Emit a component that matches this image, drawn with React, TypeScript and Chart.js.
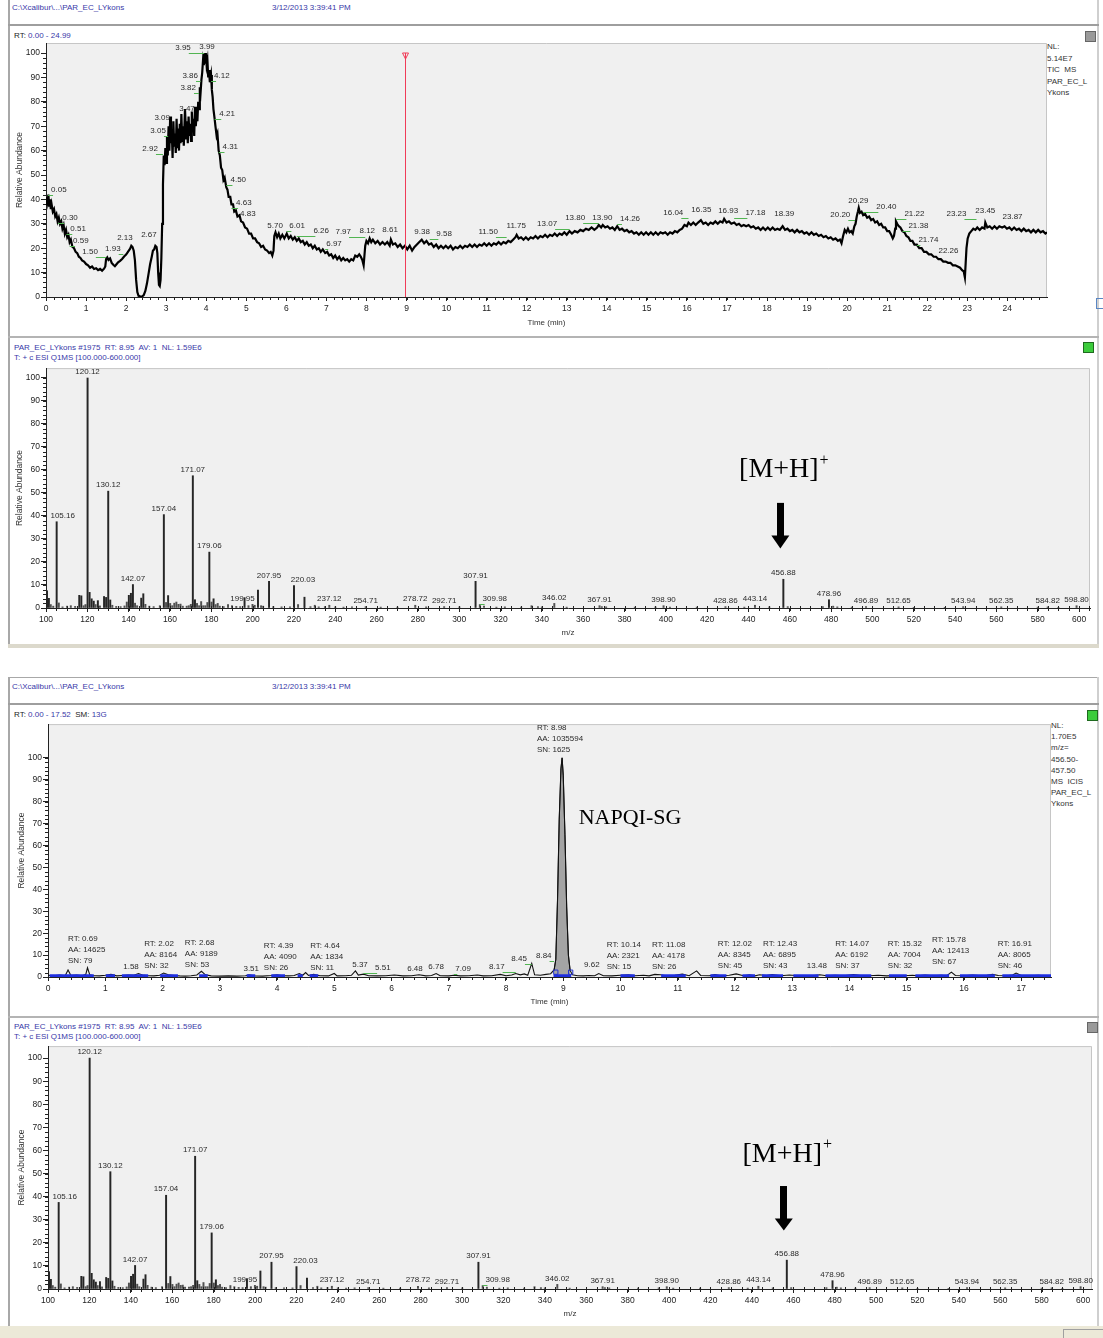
import React, { useEffect, useRef } from "react";
import { Chart, registerables } from "chart.js";

Chart.register(...registerables);

const SANS = '"Liberation Sans", Arial, Helvetica, sans-serif';
const SERIF = '"Liberation Serif", "Times New Roman", Times, serif';
Chart.defaults.font.family = SANS;
Chart.defaults.color = "#222";

// ================= DATA =================
// TIC chromatogram (top): [time (min), relative abundance %]
const tic1Points: [number, number][] = [
  [0.00,38],[0.02,41],[0.04,39],[0.06,42],[0.08,37],[0.10,40],[0.12,36],[0.14,38],[0.17,35],[0.20,36],
  [0.23,33],[0.26,34],[0.29,31],[0.32,32.5],[0.35,30],[0.38,31],[0.41,28],[0.44,29.5],[0.47,26],[0.50,27.5],
  [0.53,24.5],[0.56,25.5],[0.59,22.5],[0.62,23.5],[0.66,20.5],[0.70,20],[0.74,18.5],[0.78,18],[0.82,16.5],[0.86,16],
  [0.90,15],[0.95,14.5],[1.00,13.5],[1.05,13],[1.10,12],[1.15,12.5],[1.20,11.5],[1.25,11.8],[1.30,11],[1.35,11.5],
  [1.40,10.8],[1.45,11.6],[1.48,12.5],[1.50,15.5],[1.53,16.2],[1.56,15.2],[1.60,15.8],[1.64,14],[1.68,13.2],[1.72,12.6],
  [1.76,13.4],[1.80,14.2],[1.85,14.8],[1.90,15.6],[1.95,16.6],[2.00,17.4],[2.05,18.6],[2.10,19.8],[2.13,21],[2.16,20.5],
  [2.19,19],[2.22,15],[2.25,7],[2.28,2],[2.31,0.5],[2.35,0.3],[2.40,0.2],[2.44,0.8],[2.48,2.5],[2.52,5.5],
  [2.56,9.5],[2.60,13.5],[2.64,16.5],[2.67,19],[2.70,19.5],[2.73,21],[2.76,20.5],[2.78,18],[2.80,10],[2.82,5],
  [2.84,4.5],[2.86,7],[2.88,16],[2.90,30],[2.92,46],[2.94,58],[2.96,54],[2.98,61],
  [3.00,55],[3.02,66],[3.04,58],[3.06,70],[3.08,60],[3.10,74],[3.12,63],[3.14,68],[3.16,57],[3.18,72],
  [3.20,62],[3.22,67],[3.24,59],[3.26,73],[3.28,61],[3.30,69],[3.32,60],[3.34,71],[3.36,63],[3.38,75],
  [3.40,64],[3.42,70],[3.44,62],[3.47,77],[3.50,65],[3.52,72],[3.54,63],[3.56,74],[3.58,66],[3.60,71],
  [3.62,64],[3.64,76],[3.66,68],[3.68,73],[3.70,66],[3.72,78],[3.74,70],[3.76,75],[3.78,72],[3.80,80],
  [3.82,77],[3.84,86],[3.86,84],[3.88,89],[3.90,92],[3.92,97],[3.94,95],[3.95,100],[3.97,96],[3.99,100],
  [4.01,95],[4.03,97],[4.05,90],[4.07,93],[4.09,88],[4.12,91],[4.14,85],[4.16,82],[4.18,77],[4.21,73],
  [4.23,70],[4.26,66],[4.28,67],[4.31,60],[4.34,58],[4.37,53],[4.40,52],[4.43,48],[4.46,49],[4.50,45],
  [4.53,44],[4.56,41],[4.60,41],[4.63,38],[4.67,38],[4.70,35],[4.74,35.5],[4.78,33],[4.83,33.5],[4.87,31],
  [4.92,30.5],[4.97,28.5],[5.02,28],[5.07,26],[5.12,26],[5.17,24],[5.22,24],[5.27,22.5],[5.32,22],[5.37,20.5],
  [5.42,21],[5.47,19.5],[5.52,19],[5.57,18],[5.61,18.5],[5.65,17],[5.68,19],[5.70,25],[5.73,26.5],[5.77,24.5],
  [5.81,26],[5.85,24],[5.90,25.5],[5.95,24],[6.01,26],[6.06,24],[6.11,25],[6.16,23.5],[6.21,24.5],[6.26,23],
  [6.31,24],[6.36,22.5],[6.41,23],[6.46,21.5],[6.51,22.5],[6.56,21],[6.61,21.5],[6.66,20],[6.71,21],[6.76,19.5],
  [6.81,20],[6.86,18.5],[6.91,19.5],[6.97,18],[7.02,18.5],[7.07,17],[7.12,17.5],[7.17,16],[7.22,17],[7.27,15.5],
  [7.32,16.5],[7.37,15],[7.42,16],[7.47,15],[7.52,15.5],[7.57,14.5],[7.62,15.5],[7.67,15],[7.72,17],[7.77,16.5],
  [7.82,17.5],[7.86,16.5],[7.90,15],[7.93,13],[7.95,17],[7.97,21],[8.00,23],[8.04,22],[8.08,24],[8.12,22.5],
  [8.16,23.5],[8.22,22],[8.28,23],[8.34,21.5],[8.40,22.5],[8.46,21.5],[8.52,22.5],[8.58,21],[8.61,23.5],[8.66,21.5],
  [8.72,22],[8.78,20.5],[8.84,21.5],[8.90,20],[8.96,21],[9.02,19.5],[9.08,21],[9.14,19],[9.20,20.5],[9.26,21.5],
  [9.32,22.5],[9.38,23.5],[9.44,22],[9.50,23],[9.56,21.5],[9.62,22],[9.68,20.5],[9.74,21.5],[9.80,20],[9.86,21],
  [9.92,20],[9.98,21],[10.04,20],[10.10,21],[10.16,19.5],[10.22,20.5],[10.28,20],[10.34,21],[10.40,20],[10.46,21],
  [10.52,20.5],[10.58,21.5],[10.64,20.5],[10.70,21.5],[10.76,20.5],[10.82,21.5],[10.88,21],[10.94,22],[11.00,21],[11.06,22],
  [11.12,21],[11.18,22],[11.24,21.5],[11.30,22.5],[11.36,21.5],[11.42,22.5],[11.48,22],[11.54,23],[11.60,22.5],[11.66,23.5],
  [11.72,24.5],[11.75,25.5],[11.80,24],[11.86,24.5],[11.92,23.5],[11.98,24.5],[12.04,23.5],[12.10,24.5],[12.16,24],[12.22,25],
  [12.28,24],[12.34,25],[12.40,24.5],[12.46,25.5],[12.52,24.5],[12.58,25.5],[12.64,25],[12.70,26],[12.76,25],[12.82,26],
  [12.88,25.5],[12.94,26.5],[13.00,25.5],[13.07,27],[13.13,26],[13.20,27],[13.27,26.5],[13.34,27.5],[13.41,27],[13.48,28],
  [13.55,27.5],[13.62,28.5],[13.69,27.5],[13.76,28.5],[13.80,29.5],[13.86,28.5],[13.90,29.5],[13.96,28.5],[14.02,29],[14.08,28],
  [14.14,28.5],[14.20,27.5],[14.26,29],[14.32,27.5],[14.38,28],[14.44,27],[14.50,27.5],[14.56,26.5],[14.62,27],[14.68,26],
  [14.74,26.5],[14.80,25.5],[14.86,26.5],[14.92,25.5],[14.98,26.5],[15.04,25.5],[15.10,26.5],[15.16,25.5],[15.22,26.5],[15.28,25.5],
  [15.34,26.5],[15.40,26],[15.46,26.5],[15.52,25.5],[15.58,26.5],[15.64,26],[15.70,27],[15.76,26.5],[15.82,27.5],[15.88,28],
  [15.94,29.5],[16.00,29],[16.04,30.5],[16.10,29.5],[16.16,30.5],[16.22,29.5],[16.28,30.5],[16.35,31.5],[16.41,30],[16.47,30.5],
  [16.53,29.5],[16.59,30.5],[16.65,30],[16.71,31],[16.77,30],[16.83,31],[16.89,30.5],[16.93,32],[16.99,30.5],[17.05,31],
  [17.11,30],[17.18,30.5],[17.24,29.5],[17.30,30],[17.36,29],[17.42,29.5],[17.48,29],[17.54,29.5],[17.60,28.5],[17.66,29],
  [17.72,28],[17.78,28.5],[17.84,27.5],[17.90,28.5],[17.96,27.5],[18.02,28.5],[18.08,27.5],[18.14,28.5],[18.20,27.5],[18.26,28],
  [18.32,27.5],[18.39,29],[18.45,27.5],[18.51,28],[18.57,27],[18.63,27.5],[18.69,26.5],[18.75,27.5],[18.81,26.5],[18.87,27],
  [18.93,26],[18.99,26.5],[19.05,25.5],[19.11,26.5],[19.17,25.5],[19.23,26],[19.29,25],[19.35,25.5],[19.41,24.5],[19.47,25],
  [19.53,24],[19.59,24.5],[19.65,23.5],[19.71,24],[19.77,23],[19.82,23.5],[19.86,22],[19.90,25],[19.94,27.5],[19.98,26.5],
  [20.02,28],[20.06,26.5],[20.10,27],[20.14,26],[20.18,29],[20.21,30],[20.24,33],[20.27,35],[20.29,36.5],[20.32,34.5],
  [20.36,35],[20.40,33.5],[20.45,34],[20.50,32.5],[20.55,33],[20.60,31.5],[20.65,32],[20.70,30.5],[20.75,31],[20.80,29.5],
  [20.85,30],[20.90,28.5],[20.95,28.5],[21.00,27],[21.05,27],[21.10,25.5],[21.14,24],[21.17,25],[21.20,28],[21.22,31],
  [21.25,30],[21.29,29],[21.33,28.5],[21.38,27],[21.43,26.5],[21.48,25],[21.53,24.5],[21.58,23],[21.63,23],[21.68,21.5],
  [21.74,21.5],[21.80,20],[21.86,20],[21.92,18.5],[21.98,18.5],[22.04,17.5],[22.10,17.5],[22.16,16.5],[22.22,16.5],[22.28,15.5],
  [22.34,15.5],[22.40,14.5],[22.46,14.5],[22.52,14],[22.58,14],[22.64,13],[22.70,13],[22.76,12.5],[22.82,12],[22.87,11],
  [22.91,10.5],[22.94,8],[22.96,14],[22.98,20],[23.01,24],[23.05,26],[23.10,27],[23.15,28],[23.20,27.5],[23.25,28.5],
  [23.31,27.5],[23.37,28.5],[23.43,28],[23.45,30.5],[23.50,28.5],[23.56,29],[23.62,28],[23.68,29],[23.74,28],[23.80,29],
  [23.87,28.5],[23.93,29],[23.99,28],[24.05,28.5],[24.11,27.5],[24.17,28.5],[24.23,27.5],[24.29,28],[24.35,27],[24.41,28],
  [24.47,27],[24.53,27.5],[24.59,26.5],[24.65,27.5],[24.71,26.5],[24.77,27.5],[24.83,26.5],[24.89,27],[24.95,26],[24.99,26.5],
];
// TIC peak labels: retention time, label anchor (min), label anchor (%)
const tic1LabelRT = [0.05,0.30,0.51,0.59,1.50,1.93,2.13,2.67,2.92,3.05,3.09,3.47,3.82,3.86,3.95,3.99,4.12,4.21,4.31,4.50,4.63,4.83,5.70,6.01,6.26,6.97,7.97,8.12,8.61,9.38,9.58,11.50,11.75,13.07,13.80,13.90,14.26,16.04,16.35,16.93,17.18,18.39,20.20,20.29,20.40,21.22,21.38,21.74,22.26,23.23,23.45,23.87];
const tic1LabelX = [0.32,0.60,0.80,0.87,1.10,1.67,1.97,2.57,2.60,2.80,2.90,3.52,3.55,3.60,3.42,4.02,4.39,4.52,4.60,4.80,4.94,5.04,5.72,6.27,6.87,7.19,7.42,8.02,8.59,9.39,9.94,11.04,11.74,12.51,13.21,13.89,14.58,15.66,16.36,17.03,17.71,18.43,19.83,20.28,20.98,21.68,21.78,22.03,22.53,22.73,23.45,24.13];
const tic1LabelY = [43.9,32.4,27.9,23.0,18.4,19.7,24.2,25.4,60.7,68.0,73.4,77.0,85.7,90.6,102.0,102.5,90.6,75.0,61.5,48.0,38.5,34.0,29.1,29.1,27.0,21.7,26.6,27.0,27.5,26.6,25.8,26.6,29.1,29.9,32.4,32.4,32.0,34.4,35.7,35.2,34.4,34.0,33.6,39.3,36.9,34.0,29.1,23.4,18.9,34.0,35.2,32.8];
const scanRT = 8.95;

// Mass spectrum (scan #1975): [m/z, relative abundance %]
const specPeaks: [number, number][] = [
  [100.5,7.5],[101.4,4.2],[102.3,1.5],[103.5,0.8],[105.16,37.5],[106.2,2.2],[108.0,0.5],[110.2,0.8],[112.0,1.0],[114.1,0.7],
  [116.1,5.5],[117.1,5.3],[118.2,1.0],[119.1,1.5],[120.12,100],[121.1,6.8],[122.1,4.0],[123.1,3.0],[124.0,1.5],[125.1,3.2],
  [126.1,0.9],[128.1,5.0],[129.1,4.6],[130.12,50.8],[131.1,3.5],[132.1,1.2],[134.0,0.7],[136.1,0.6],[138.0,0.9],[139.1,2.6],
  [140.1,5.5],[141.1,6.4],[142.07,10.2],[143.1,2.1],[144.1,1.0],[146.1,4.3],[147.1,6.2],[148.1,1.6],[150.0,0.8],[152.1,0.6],
  [155.1,1.0],[157.04,40.6],[158.1,2.4],[159.1,5.4],[160.1,2.0],[161.1,1.0],[162.1,2.1],[163.1,2.6],[164.1,1.6],[165.1,1.7],
  [166.2,0.8],[168.1,0.8],[169.1,1.0],[170.1,1.6],[171.07,57.5],[172.1,3.6],[173.1,2.0],[174.1,1.0],[175.1,2.8],[176.1,1.0],
  [177.1,1.0],[178.1,2.4],[179.06,24.3],[180.1,2.6],[181.1,4.0],[182.1,1.5],[183.1,2.0],[184.1,0.8],[186.0,0.6],[188.1,1.5],
  [190.0,1.0],[192.1,0.7],[194.0,0.6],[196.1,4.5],[198.0,1.0],[199.95,1.6],[201.0,1.2],[202.6,7.8],[204.1,1.0],[205.1,0.8],
  [207.95,11.6],[210.0,0.6],[214.0,0.5],[218.1,0.5],[220.03,9.7],[222.0,1.5],[225.1,4.7],[228.0,0.6],[230.1,1.2],[232.0,0.5],
  [235.0,0.6],[237.12,1.2],[240.0,0.5],[244.0,0.4],[248.1,0.5],[254.71,0.6],[262.0,0.4],[270.1,0.4],[278.72,1.2],[284.0,0.5],
  [292.71,0.6],[300.1,0.5],[307.91,11.6],[309.98,1.5],[312.0,0.8],[318.0,0.4],[322.1,0.5],[330.0,0.4],[335.0,1.0],[338.1,0.6],
  [340.0,0.5],[346.02,2.0],[352.0,0.4],[367.91,1.0],[369.0,0.6],[371.1,0.5],[385.0,0.4],[395.0,0.5],[398.90,1.0],[402.0,0.4],
  [415.0,0.4],[428.86,0.6],[438.0,0.4],[443.14,1.2],[450.1,0.5],[456.88,12.5],[459.0,0.6],[476.0,0.6],[478.96,3.6],[481.0,0.8],
  [483.0,0.5],[490.0,0.4],[496.89,0.6],[512.65,0.5],[520.0,0.3],[535.0,0.3],[543.94,0.6],[562.35,0.5],[580.0,0.4],[584.82,0.5],
  [590.0,0.3],[598.80,1.0],
];
const specLabelMz = [105.16,120.12,130.12,142.07,157.04,171.07,179.06,199.95,207.95,220.03,237.12,254.71,278.72,292.71,307.91,309.98,346.02,367.91,398.90,428.86,443.14,456.88,478.96,496.89,512.65,543.94,562.35,584.82,598.80];
const mhMz = 456.88;

// XIC m/z 456.50-457.50 (bottom chromatogram): [time (min), relative abundance %]
const xic2Points: [number, number][] = [
  [0.00,0.8],[0.10,0.5],[0.20,0.9],[0.30,0.6],[0.35,3.2],[0.40,0.7],[0.50,0.9],[0.60,0.6],[0.66,1.2],[0.69,4.2],
  [0.73,1.0],[0.80,0.6],[0.90,0.5],[1.00,0.8],[1.10,1.2],[1.20,0.5],[1.30,0.7],[1.40,0.9],[1.50,0.8],[1.58,1.6],
  [1.65,0.9],[1.75,0.6],[1.85,0.5],[1.95,0.8],[2.02,1.8],[2.10,1.0],[2.20,0.7],[2.30,0.5],[2.40,0.4],[2.50,0.6],
  [2.60,0.9],[2.68,2.6],[2.75,1.0],[2.85,0.5],[3.00,0.4],[3.15,0.5],[3.30,0.4],[3.45,0.6],[3.51,1.0],[3.60,0.5],
  [3.75,0.4],[3.90,0.7],[4.00,1.0],[4.10,0.6],[4.20,0.5],[4.30,0.7],[4.39,1.6],[4.45,0.8],[4.50,2.0],[4.55,0.7],
  [4.64,1.2],[4.75,0.6],[4.90,0.5],[5.00,1.6],[5.05,0.5],[5.20,0.6],[5.30,0.8],[5.37,2.8],[5.42,0.9],[5.51,1.3],
  [5.60,0.6],[5.75,0.5],[5.90,0.6],[6.05,0.9],[6.20,0.5],[6.35,0.6],[6.48,1.0],[6.60,0.5],[6.70,0.7],[6.78,1.6],
  [6.85,0.6],[7.00,0.5],[7.09,0.8],[7.20,0.5],[7.35,0.6],[7.50,0.9],[7.60,0.5],[7.75,0.6],[7.90,1.2],[8.00,0.6],
  [8.10,0.9],[8.17,1.6],[8.25,1.0],[8.32,1.4],[8.38,0.8],[8.45,6.2],[8.50,1.0],[8.60,0.8],[8.70,1.2],[8.78,1.5],
  [8.84,3.2],[8.87,8],[8.90,35],[8.93,72],[8.96,95],[8.98,100],[9.00,92],[9.03,65],[9.06,32],[9.09,10],
  [9.12,3],[9.16,1.0],[9.25,0.6],[9.35,0.5],[9.45,0.7],[9.55,0.6],[9.62,1.6],[9.70,0.6],[9.85,0.5],[10.00,0.8],
  [10.14,1.0],[10.25,0.6],[10.40,0.8],[10.50,0.5],[10.60,1.2],[10.70,1.0],[10.80,0.6],[10.95,0.8],[11.08,1.3],[11.20,0.6],
  [11.33,2.8],[11.40,0.7],[11.55,0.6],[11.65,1.1],[11.75,0.6],[11.90,0.8],[12.02,1.4],[12.15,0.6],[12.25,1.0],[12.35,0.5],
  [12.43,1.0],[12.55,0.7],[12.65,1.1],[12.80,0.6],[12.95,0.9],[13.10,0.6],[13.25,0.7],[13.35,0.5],[13.48,1.0],[13.60,0.6],
  [13.75,0.8],[13.90,0.6],[14.07,1.1],[14.20,0.7],[14.35,0.6],[14.50,0.8],[14.65,0.5],[14.80,0.7],[14.95,0.6],[15.10,0.8],
  [15.20,0.6],[15.32,0.9],[15.45,0.6],[15.60,0.8],[15.70,0.6],[15.78,2.2],[15.85,0.7],[16.00,0.6],[16.15,0.9],[16.30,0.6],
  [16.40,0.8],[16.50,1.2],[16.60,0.7],[16.75,0.6],[16.85,0.9],[16.91,1.8],[17.00,0.7],[17.15,0.6],[17.30,0.8],[17.40,0.6],
  [17.52,0.7],
];
const xic2PeakStart = 8.84;
const xic2PeakEnd = 9.12;
const xic2Bounds = [8.87, 9.13];
const icisLevel = 0.6;
const icisStart = [0.03,1.01,1.29,1.96,2.64,3.47,3.90,4.36,4.57,8.83,10.00,10.71,11.57,12.13,12.47,13.02,13.58,14.69,15.15,15.93,16.67];
const icisEnd = [0.80,1.17,1.75,2.27,2.79,3.62,4.14,4.45,4.72,9.14,10.25,11.14,11.85,12.35,12.84,13.46,14.38,15.00,15.74,16.54,17.52];
const xic2PeakRT = [0.69,2.02,2.68,4.39,4.64,8.98,10.14,11.08,12.02,12.43,14.07,15.32,15.78,16.91];
const xic2PeakAA = [14625,8164,9189,4090,1834,1035594,2321,4178,8345,6895,6192,7004,12413,8065];
const xic2PeakSN = [79,32,53,26,11,1625,15,26,45,43,37,32,67,46];
const xic2PeakLabelX = [0.35,1.68,2.39,3.77,4.58,8.54,9.76,10.55,11.70,12.49,13.75,14.67,15.44,16.59];
const xic2PeakLabelY = [7.2,5.0,5.4,4.1,4.1,103.6,4.5,4.5,5.0,5.0,5.0,5.0,6.8,5.0];
const xic2MinorRT = [1.58,3.51,5.37,5.51,6.48,6.78,7.09,8.17,8.45,8.84,9.62,13.48];
const xic2MinorX = [1.45,3.55,5.45,5.85,6.41,6.78,7.25,7.84,8.23,8.66,9.50,13.43];
const xic2MinorY = [4.5,3.6,5.4,4.1,3.6,4.5,3.6,4.5,8.1,9.5,5.4,5.0];

// ================= STYLE HELPERS =================
const BLUE_TXT = "#3838a8";
const LABEL_NUDGE_PX: Record<string, number> = { "105.16": 6, "199.95": -10, "220.03": 9, "309.98": 15 };

function makeDeco(spec: any) {
  return {
    id: "deco",
    beforeDraw(chart: any) {
      const { ctx, chartArea: a } = chart;
      ctx.save();
      ctx.fillStyle = "#f0f0f0";
      ctx.fillRect(a.left, a.top, a.right - a.left, a.bottom - a.top);
      ctx.strokeStyle = "#c6c6c6";
      ctx.lineWidth = 1;
      ctx.beginPath();
      ctx.moveTo(a.left, a.top + 0.5);
      ctx.lineTo(a.right - 0.5, a.top + 0.5);
      ctx.lineTo(a.right - 0.5, a.bottom);
      ctx.stroke();
      ctx.restore();
    },
    afterDatasetsDraw(chart: any) {
      const { ctx, chartArea: a, scales } = chart;
      const xs = scales.x;
      const ys = scales.y;
      ctx.save();
      ctx.strokeStyle = "#222";
      ctx.lineWidth = 1;
      ctx.beginPath();
      if (spec.xMinor) {
        const st = spec.xMinor;
        for (let k = Math.ceil(xs.min / st - 1e-9); k * st <= xs.max + 1e-9; k++) {
          const px = Math.round(xs.getPixelForValue(k * st)) + 0.5;
          ctx.moveTo(px, a.bottom - (spec.xCross || 0));
          ctx.lineTo(px, a.bottom + 3);
        }
      }
      if (spec.yMinor) {
        for (let k = 0; k * spec.yMinor <= 100 + 1e-9; k++) {
          const py = Math.round(ys.getPixelForValue(k * spec.yMinor)) + 0.5;
          ctx.moveTo(a.left - 3, py);
          ctx.lineTo(a.left, py);
        }
      }
      ctx.stroke();

      if (spec.red != null) {
        const px = Math.round(xs.getPixelForValue(spec.red)) + 0.5;
        const top = ys.getPixelForValue(100);
        ctx.strokeStyle = "#f03c58";
        ctx.lineWidth = 1;
        ctx.beginPath();
        ctx.moveTo(px, top);
        ctx.lineTo(px, a.bottom);
        ctx.stroke();
        ctx.beginPath();
        ctx.moveTo(px - 3, top);
        ctx.lineTo(px + 3, top);
        ctx.lineTo(px, top + 6);
        ctx.closePath();
        ctx.stroke();
      }

      ctx.font = "8px " + SANS;
      ctx.textBaseline = "middle";
      for (const L of spec.labels || []) {
        const x = xs.getPixelForValue(L.x) + (L.dx || 0);
        const y = ys.getPixelForValue(L.y) + (L.dy || 0);
        const w = ctx.measureText(L.text).width;
        if (L.peak != null) {
          const px = xs.getPixelForValue(L.peak);
          if (Math.abs(px - x) > w / 2 + 1) {
            ctx.strokeStyle = "#52b552";
            ctx.lineWidth = 1;
            ctx.beginPath();
            const from = px > x ? x + w / 2 - 2 : x - w / 2 + 2;
            ctx.moveTo(from, Math.round(y + 5) + 0.5);
            ctx.lineTo(px, Math.round(y + 5) + 0.5);
            ctx.stroke();
          }
        }
        ctx.fillStyle = "#2a2a2a";
        ctx.textAlign = "center";
        ctx.fillText(L.text, x, y);
      }

      for (const M of spec.multi || []) {
        const x = xs.getPixelForValue(M.x);
        const y = ys.getPixelForValue(M.y);
        ctx.fillStyle = "#2a2a2a";
        ctx.textAlign = "left";
        const n = M.lines.length;
        M.lines.forEach((t: string, i: number) => {
          ctx.fillText(t, x, y - (n - 1 - i) * 11);
        });
      }

      if (spec.mh) {
        const cx = xs.getPixelForValue(spec.mh.x);
        ctx.fillStyle = "#000";
        ctx.font = "28px " + SERIF;
        const w1 = ctx.measureText("[M+H]").width;
        ctx.font = "16px " + SERIF;
        const w2 = ctx.measureText("+").width;
        const start = cx - (w1 + w2) / 2;
        const ty = ys.getPixelForValue(spec.mh.textY);
        ctx.textAlign = "left";
        ctx.textBaseline = "middle";
        ctx.font = "28px " + SERIF;
        ctx.fillText("[M+H]", start, ty);
        ctx.font = "16px " + SERIF;
        ctx.fillText("+", start + w1 + 1, ty - 9);
        const t = ys.getPixelForValue(spec.mh.top);
        const h = ys.getPixelForValue(spec.mh.head);
        const tip = ys.getPixelForValue(spec.mh.tip);
        const ax = cx - 3;
        ctx.fillRect(Math.round(ax - 3.5), t, 7, h - t + 1);
        ctx.beginPath();
        ctx.moveTo(ax - 9, h);
        ctx.lineTo(ax + 9, h);
        ctx.lineTo(ax, tip);
        ctx.closePath();
        ctx.fill();
      }

      if (spec.note) {
        ctx.fillStyle = "#000";
        ctx.font = spec.note.font;
        ctx.textAlign = "left";
        ctx.textBaseline = "middle";
        ctx.fillText(spec.note.text, xs.getPixelForValue(spec.note.x), ys.getPixelForValue(spec.note.y));
      }
      ctx.restore();
    },
  };
}

function xAxis(min: number, max: number, step: number, keep: number, title: string, h: number, titlePad: number) {
  return {
    type: "linear",
    min,
    max,
    bounds: "data",
    offset: false,
    ticks: {
      stepSize: step,
      includeBounds: false,
      autoSkip: false,
      maxRotation: 0,
      minRotation: 0,
      padding: 3,
      color: "#222",
      font: { size: 8.5 },
      callback: (v: any) => String(v),
    },
    grid: { drawOnChartArea: false, drawTicks: true, tickLength: 4, color: "#222", offset: false },
    border: { display: true, color: "#222", width: 1 },
    title: { display: true, text: title, color: "#333", font: { size: 8 }, padding: { top: 0, bottom: titlePad } },
    afterBuildTicks: (ax: any) => {
      ax.ticks = ax.ticks.filter((t: any) => Math.abs(t.value / keep - Math.round(t.value / keep)) < 1e-6 && t.value <= max + 1e-9);
    },
    afterFit: (ax: any) => {
      ax.height = h;
    },
  };
}

function yAxis(max: number, w: number, titlePad: number) {
  return {
    type: "linear",
    min: 0,
    max,
    bounds: "data",
    ticks: {
      stepSize: 10,
      includeBounds: false,
      autoSkip: false,
      padding: 1,
      color: "#222",
      font: { size: 8.5 },
      callback: (v: any) => String(v),
    },
    grid: { drawOnChartArea: false, drawTicks: true, tickLength: 5, color: "#222" },
    border: { display: true, color: "#222", width: 1 },
    title: { display: true, text: "Relative Abundance", color: "#333", font: { size: 8.5 }, padding: { top: titlePad, bottom: 0 } },
    afterBuildTicks: (ax: any) => {
      ax.ticks = ax.ticks.filter((t: any) => t.value <= 100 + 1e-9 && Math.abs(t.value % 10) < 1e-6);
    },
    afterFit: (ax: any) => {
      ax.width = w;
    },
  };
}

function baseOptions(padding: any) {
  return {
    animation: false,
    responsive: false,
    maintainAspectRatio: false,
    events: [],
    layout: { padding },
    plugins: { legend: { display: false }, tooltip: { enabled: false }, title: { display: false } },
  };
}

function ticConfig() {
  return {
    type: "line",
    data: {
      datasets: [
        {
          data: tic1Points.map((p) => ({ x: p[0], y: p[1] })),
          borderColor: "#000",
          borderWidth: 2.2,
          pointRadius: 0,
          tension: 0,
          fill: false,
        },
      ],
    },
    options: {
      ...baseOptions({ top: 13, right: 56, left: 0, bottom: 0 }),
      scales: {
        x: xAxis(0, 24.99, 1, 1, "Time (min)", 38, 7),
        y: yAxis(104.1, 46, 15),
      },
    },
    plugins: [
      makeDeco({
        xMinor: 0.2,
        yMinor: 2,
        red: scanRT,
        labels: tic1LabelRT.map((rt, i) => ({ text: rt.toFixed(2), x: tic1LabelX[i], y: tic1LabelY[i], peak: rt })),
      }),
    ],
  };
}

function specConfig(o: any) {
  return {
    type: "bar",
    data: {
      datasets: [
        {
          data: specPeaks.map((p) => ({ x: p[0], y: p[1] })),
          backgroundColor: specPeaks.map((p) => (p[1] >= 3 ? "#262626" : "#505050")),
          borderWidth: 0,
          barThickness: 1.3,
          grouped: false,
        },
      ],
    },
    options: {
      ...baseOptions({ top: 4, right: o.padRight, left: 0, bottom: 0 }),
      scales: {
        x: xAxis(100, o.xMax, 20, 20, "m/z", o.xH, o.titlePad),
        y: yAxis(o.yMax, o.yW, o.yTitlePad),
      },
    },
    plugins: [
      makeDeco({
        xMinor: 5,
        xCross: 2,
        yMinor: 2,
        labels: specLabelMz.map((mz) => {
          const key = mz.toFixed(2);
          const pk = specPeaks.find((q) => q[0] === mz);
          const nudge = LABEL_NUDGE_PX[key];
          return { text: key, x: mz, y: pk ? pk[1] : 0, dy: -6, dx: nudge || 0, peak: nudge ? mz : undefined };
        }),
        mh: { x: mhMz, textY: o.mhText, top: o.mhTop, head: o.mhHead, tip: o.mhTip },
      }),
    ],
  };
}

function xicConfig() {
  const icisData: any[] = [];
  icisStart.forEach((s, i) => {
    icisData.push({ x: s, y: icisLevel }, { x: icisEnd[i], y: icisLevel }, { x: icisEnd[i] + 0.001, y: null });
  });
  return {
    type: "line",
    data: {
      datasets: [
        {
          data: xic2Bounds.map((x) => ({ x, y: 2.2 })),
          showLine: false,
          pointStyle: "rect",
          pointRadius: 3,
          borderColor: "#2030d0",
          backgroundColor: "rgba(0,0,0,0)",
          borderWidth: 1,
        },
        {
          data: icisData,
          borderColor: "#1f2fe0",
          borderWidth: 3,
          pointRadius: 0,
          spanGaps: false,
          fill: false,
        },
        {
          data: xic2Points.map((p) => ({ x: p[0], y: p[1] })),
          borderColor: "#111",
          borderWidth: 1.1,
          pointRadius: 0,
          tension: 0,
          fill: false,
        },
        {
          data: xic2Points.filter((p) => p[0] >= xic2PeakStart && p[0] <= xic2PeakEnd).map((p) => ({ x: p[0], y: p[1] })),
          borderColor: "#222",
          borderWidth: 1,
          backgroundColor: "#a4a4a4",
          pointRadius: 0,
          tension: 0,
          fill: "origin",
        },
      ],
    },
    options: {
      ...baseOptions({ top: 4, right: 52, left: 0, bottom: 0 }),
      scales: {
        x: xAxis(0, 17.52, 1, 1, "Time (min)", 36, 6),
        y: yAxis(115.4, 48, 17),
      },
    },
    plugins: [
      makeDeco({
        xMinor: 0.2,
        yMinor: 2,
        labels: xic2MinorRT.map((rt, i) => ({ text: rt.toFixed(2), x: xic2MinorX[i], y: xic2MinorY[i], peak: rt })),
        multi: xic2PeakRT.map((rt, i) => ({
          x: xic2PeakLabelX[i],
          y: xic2PeakLabelY[i],
          lines: ["RT: " + rt.toFixed(2), "AA: " + xic2PeakAA[i], "SN: " + xic2PeakSN[i]],
        })),
        note: { text: "NAPQI-SG", x: 9.27, y: 72.4, font: "22px " + SERIF },
      }),
    ],
  };
}

function ChartBox({ top, height, build }: any) {
  const ref = useRef<HTMLCanvasElement>(null);
  useEffect(() => {
    const chart = new Chart(ref.current as HTMLCanvasElement, build() as any);
    return () => chart.destroy();
  }, []);
  return (
    <canvas
      ref={ref}
      width={1103}
      height={height}
      style={{ position: "absolute", left: 0, top, width: 1103, height, display: "block" }}
    />
  );
}

function Bar({ x, y, w, h, c }: any) {
  return <div style={{ position: "absolute", left: x, top: y, width: w, height: h, background: c }} />;
}

function Txt({ x, y, c, lh, children }: any) {
  return (
    <div
      style={{
        position: "absolute",
        left: x,
        top: y,
        color: c || "#222",
        fontSize: 8,
        lineHeight: (lh || 10) + "px",
        whiteSpace: "pre",
        fontFamily: SANS,
      }}
    >
      {children}
    </div>
  );
}

function Icon({ x, y, c, b }: any) {
  return (
    <div
      style={{
        position: "absolute",
        left: x,
        top: y,
        width: 11,
        height: 11,
        background: c,
        border: "1px solid " + b,
        boxSizing: "border-box",
      }}
    />
  );
}

export default function App() {
  return (
    <div
      style={{
        position: "absolute",
        left: 0,
        top: 0,
        width: 1103,
        height: 1338,
        background: "#fff",
        overflow: "hidden",
        fontFamily: SANS,
      }}
    >
      <Bar x={8} y={0} w={2} h={648} c="#a8a8a8" />
      <Bar x={1097} y={0} w={2} h={648} c="#cfcfcf" />
      <Bar x={8} y={24} w={1091} h={2} c="#9e9e9e" />
      <Bar x={8} y={336} w={1091} h={2} c="#b4b4b4" />
      <Bar x={8} y={644} w={1091} h={4} c="#dcd9cc" />
      <Txt x={12} y={3} c={BLUE_TXT}>{"C:\\Xcalibur\\...\\PAR_EC_LYkons"}</Txt>
      <Txt x={272} y={3} c={BLUE_TXT}>{"3/12/2013 3:39:41 PM"}</Txt>
      <Txt x={14} y={31}>
        {"RT: "}
        <span style={{ color: BLUE_TXT }}>{"0.00 - 24.99"}</span>
      </Txt>
      <Txt x={1047} y={41} lh={11.5} c="#333">{"NL:\n5.14E7\nTIC  MS\nPAR_EC_L\nYkons"}</Txt>
      <Icon x={1085} y={31} c="#9a9a9a" b="#666" />
      <div style={{ position: "absolute", left: 1096, top: 298, width: 8, height: 11, border: "1px solid #5a86c4", boxSizing: "border-box" }} />
      <Txt x={14} y={343} c={BLUE_TXT}>{"PAR_EC_LYkons #1975  RT: 8.95  AV: 1  NL: 1.59E6\nT: + c ESI Q1MS [100.000-600.000]"}</Txt>
      <Icon x={1083} y={342} c="#3ccc3c" b="#1f6a1f" />

      <ChartBox top={30} height={305} build={ticConfig} />
      <ChartBox
        top={362}
        height={282}
        build={() =>
          specConfig({ padRight: 13, xMax: 605.3, xH: 36, titlePad: 6, yMax: 104.3, yW: 46, yTitlePad: 15, mhText: 60.3, mhTop: 45.7, mhHead: 31.5, mhTip: 25.9 })
        }
      />

      <Bar x={8} y={677} w={1091} h={1} c="#a8a8a8" />
      <Bar x={8} y={677} w={2} h={650} c="#a8a8a8" />
      <Bar x={1097} y={677} w={2} h={650} c="#cfcfcf" />
      <Bar x={8} y={703} w={1091} h={2} c="#9e9e9e" />
      <Bar x={8} y={1016} w={1091} h={2} c="#b4b4b4" />
      <Bar x={0} y={1326} w={1103} h={12} c="#ece9d8" />
      <div style={{ position: "absolute", left: 1063, top: 1329, width: 40, height: 9, borderLeft: "1px solid #a0a0a0", borderTop: "1px solid #a0a0a0", boxSizing: "border-box" }} />
      <Txt x={12} y={682} c={BLUE_TXT}>{"C:\\Xcalibur\\...\\PAR_EC_LYkons"}</Txt>
      <Txt x={272} y={682} c={BLUE_TXT}>{"3/12/2013 3:39:41 PM"}</Txt>
      <Txt x={14} y={710}>
        {"RT: "}
        <span style={{ color: BLUE_TXT }}>{"0.00 - 17.52"}</span>
        {"  SM: "}
        <span style={{ color: BLUE_TXT }}>{"13G"}</span>
      </Txt>
      <Txt x={1051} y={720} lh={11.2} c="#333">{"NL:\n1.70E5\nm/z=\n456.50-\n457.50\nMS  ICIS\nPAR_EC_L\nYkons"}</Txt>
      <Icon x={1087} y={710} c="#3ccc3c" b="#1f6a1f" />
      <Txt x={14} y={1022} c={BLUE_TXT}>{"PAR_EC_LYkons #1975  RT: 8.95  AV: 1  NL: 1.59E6\nT: + c ESI Q1MS [100.000-600.000]"}</Txt>
      <Icon x={1087} y={1022} c="#9a9a9a" b="#666" />

      <ChartBox top={718} height={295} build={xicConfig} />
      <ChartBox
        top={1040}
        height={286}
        build={() =>
          specConfig({ padRight: 11, xMax: 604.3, xH: 37, titlePad: 7, yMax: 105.2, yW: 48, yTitlePad: 17, mhText: 58.4, mhTop: 44.6, mhHead: 30.5, mhTip: 25.3 })
        }
      />
    </div>
  );
}
